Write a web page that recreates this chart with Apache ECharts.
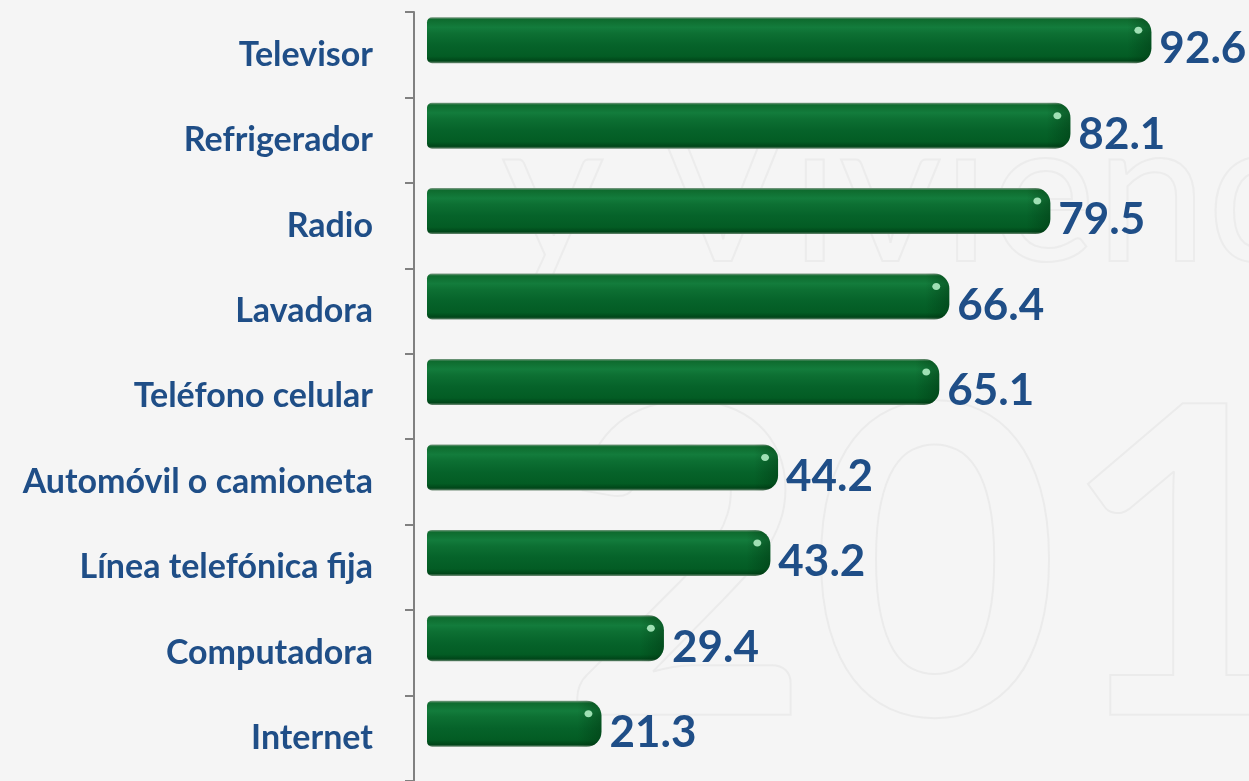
<!DOCTYPE html>
<html>
<head>
<meta charset="utf-8">
<script src="https://cdn.jsdelivr.net/npm/echarts@6/dist/echarts.min.js"></script>
<style>
  html, body { margin: 0; padding: 0; background: #f5f5f5; }
  #chart { width: 1249px; height: 781px; }
</style>
</head>
<body>
<div id="chart"></div>
<script>
// categorías y porcentajes
const categories = ['Televisor', 'Refrigerador', 'Radio', 'Lavadora', 'Teléfono celular',
  'Automóvil o camioneta', 'Línea telefónica fija', 'Computadora', 'Internet'];
const values = [92.6, 82.1, 79.5, 66.4, 65.1, 44.2, 43.2, 29.4, 21.3];

const blue = '#1f4e87';
const myChart = echarts.init(document.getElementById('chart'));

// relleno verde con brillo (tipo cilindro)
const barFill = new echarts.graphic.LinearGradient(0, 0, 0, 1, [
  { offset: 0, color: '#7f9c86' },
  { offset: 0.05, color: '#0e6b2e' },
  { offset: 0.22, color: '#137c3c' },
  { offset: 0.35, color: '#0d7033' },
  { offset: 0.6, color: '#06632a' },
  { offset: 0.85, color: '#035c24' },
  { offset: 0.95, color: '#004619' },
  { offset: 1, color: '#6f8c76' }
]);
const capShade = new echarts.graphic.LinearGradient(0, 0, 1, 0, [
  { offset: 0, color: 'rgba(0,40,10,0)' },
  { offset: 1, color: 'rgba(0,40,10,0.35)' }
]);

function renderBar(params, api) {
  const val = api.value(0);
  const end = api.coord([val, api.value(1)]);
  const x0 = params.coordSys.x + 13;
  const h = 46;
  const top = end[1] - 14.5 - h / 2;
  return {
    type: 'group',
    children: [
      { type: 'rect', shape: { x: x0, y: top, width: end[0] - x0, height: h, r: [5, 15, 15, 5] },
        style: { fill: barFill } },
      { type: 'rect', shape: { x: end[0] - 24, y: top, width: 24, height: h, r: [0, 15, 15, 0] },
        style: { fill: capShade } },
      { type: 'ellipse', shape: { cx: end[0] - 13, cy: top + 13, rx: 4, ry: 3.5 },
        style: { fill: '#9fe0b4' } },
      { type: 'text', style: { x: end[0] + 8, y: top + h / 2 + 9, text: val.toFixed(1),
        font: 'bold 44px Lato', fill: blue, verticalAlign: 'middle' } }
    ]
  };
}

myChart.setOption({
  backgroundColor: '#f5f5f5',
  animation: false,
  graphic: [
    { type: 'text', left: 560, top: 360, silent: true, z: -10,
      style: { text: '2010', font: 'bold 430px Lato', fill: 'rgba(0,0,0,0)', stroke: '#ebebeb', lineWidth: 2 } },
    { type: 'text', left: 500, top: 95, silent: true, z: -10,
      style: { text: 'y Vivienda', font: '200px Lato', fill: 'rgba(0,0,0,0)', stroke: '#ececec', lineWidth: 2 } }
  ],
  grid: { left: 414, top: 12, width: 833, height: 770 },
  xAxis: { type: 'value', min: -3, max: 105, show: false },
  yAxis: {
    type: 'category',
    data: categories,
    inverse: true,
    axisLine: { onZero: false, lineStyle: { color: '#808080', width: 2 } },
    axisTick: { show: true, length: 9, lineStyle: { color: '#808080', width: 2 } },
    axisLabel: { margin: 41, color: blue, fontFamily: 'Lato', fontWeight: 'bold', fontSize: 34, padding: [12, 0, 0, 0] },
    splitLine: { show: false }
  },
  series: [{
    type: 'custom',
    renderItem: renderBar,
    encode: { x: 0, y: 1 },
    clip: false,
    data: values.map((v, i) => [v, i])
  }]
});
</script>
</body>
</html>
